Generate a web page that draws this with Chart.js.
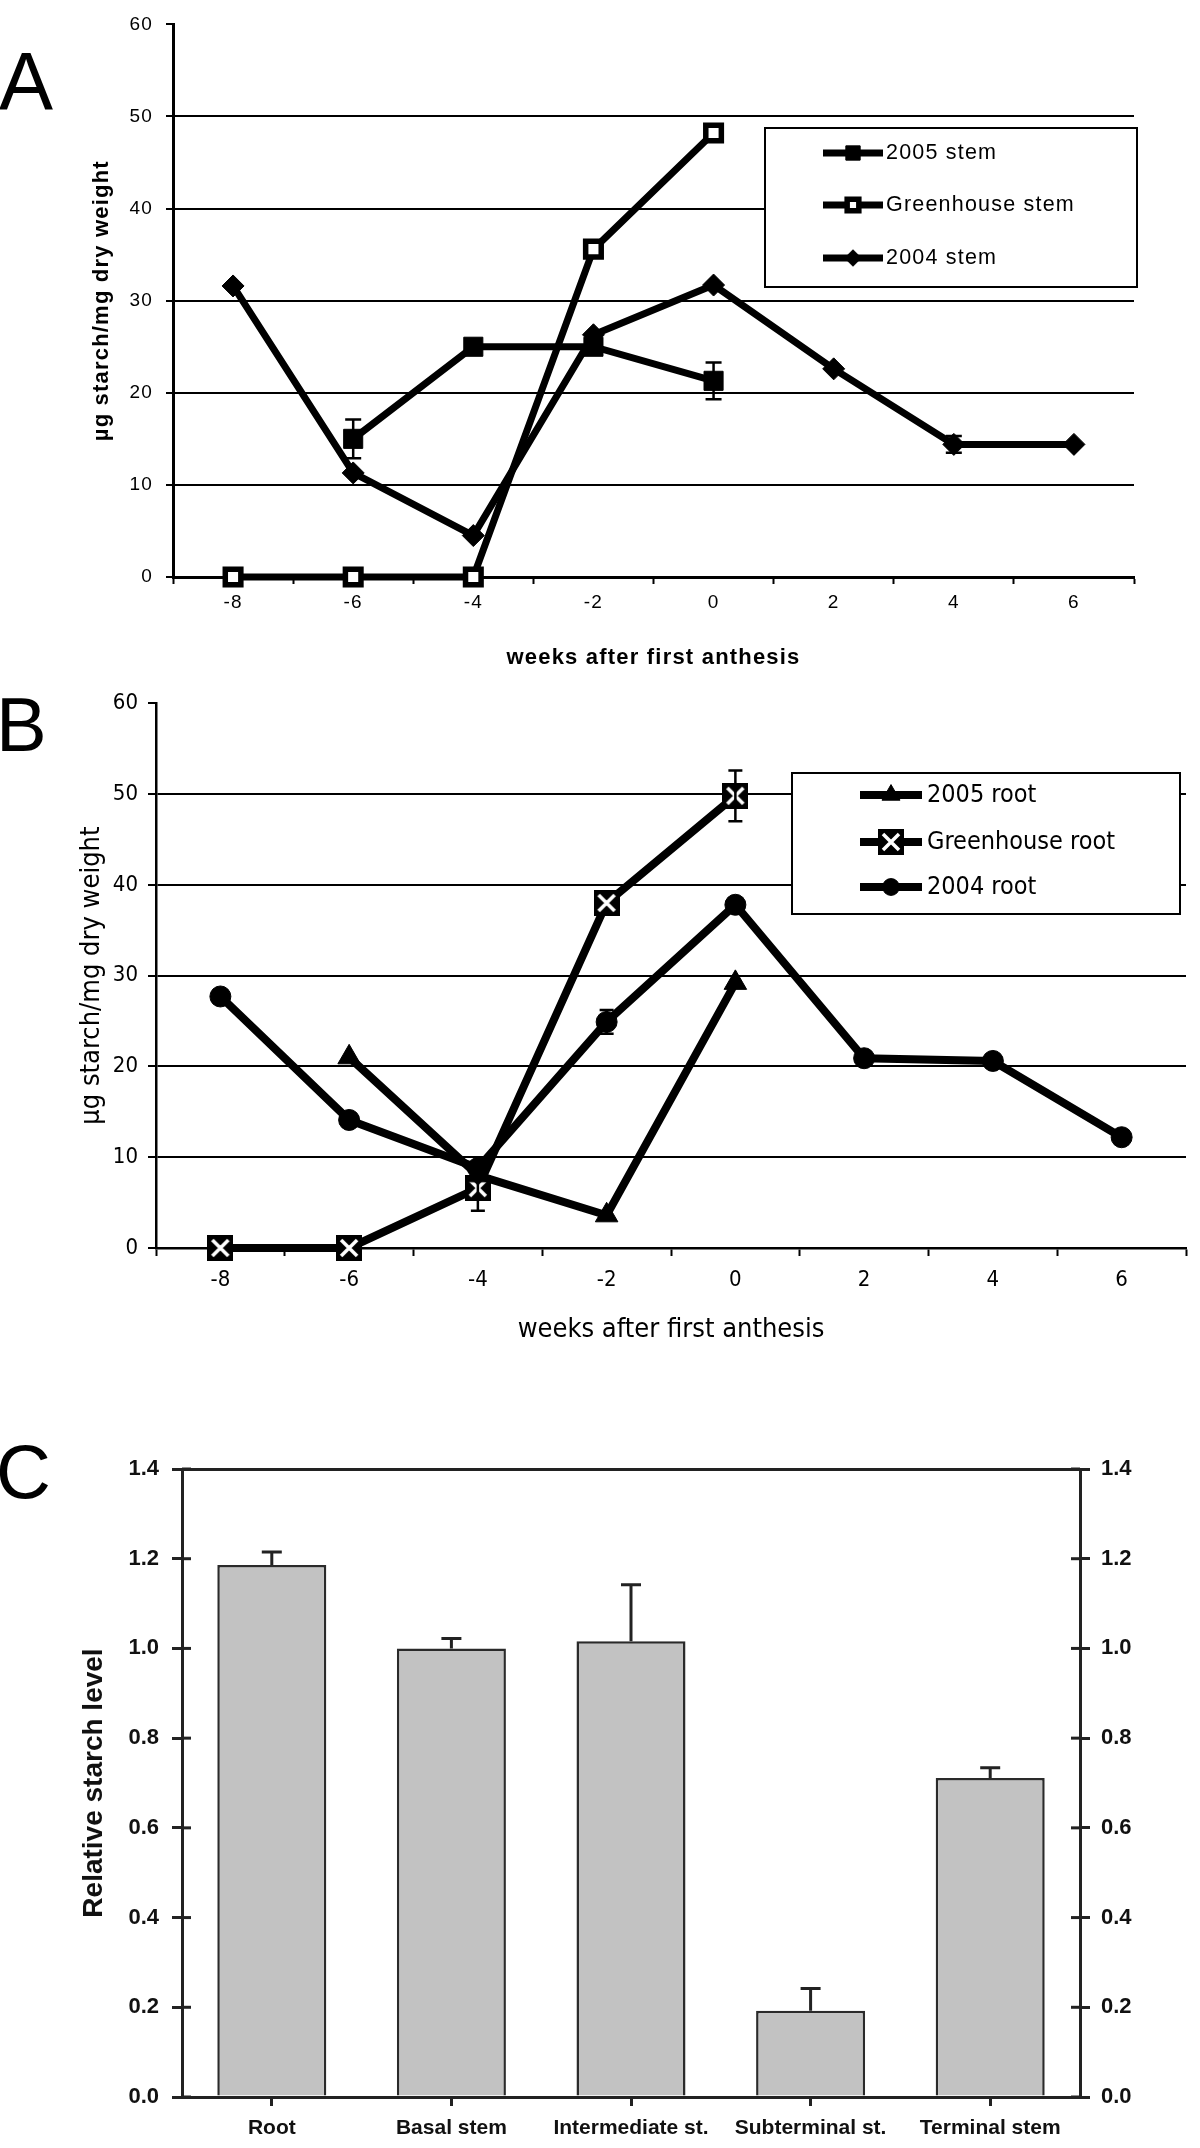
<!DOCTYPE html>
<html>
<head>
<meta charset="utf-8">
<script src="https://cdn.jsdelivr.net/npm/chart.js@4.4.1/dist/chart.umd.min.js"></script>
<style>
body { margin: 0; background: #fff; width: 1200px; height: 2148px; position: relative; overflow: hidden; }
.panel { position: absolute; left: 0; width: 1200px; }
.panel canvas { display: block; }
.letter { position: absolute; font-family: 'Liberation Sans', Arial, sans-serif; line-height: 1; color: #000; }
</style>
</head>
<body>
<div class="panel" style="top:0;height:680px"><canvas id="chartA" width="1200" height="680"></canvas></div>
<div class="panel" style="top:680px;height:680px"><canvas id="chartB" width="1200" height="680"></canvas></div>
<div class="panel" style="top:1400px;height:748px"><canvas id="chartC" width="1200" height="748"></canvas></div>
<div class="letter" style="left:-1px;top:41px;font-size:81px">A</div>
<div class="letter" style="left:-4px;top:687px;font-size:76px">B</div>
<div class="letter" style="left:-4px;top:1434px;font-size:76px">C</div>

<script>
// weeks after first anthesis (x categories)
var weeks = ['-8', '-6', '-4', '-2', '0', '2', '4', '6'];
var yTicksAB = [0, 10, 20, 30, 40, 50, 60];

// A : stem
var stem2005 = [null, 15.0, 25.0, 25.0, 21.3, null, null, null];
var stem2005Err = [null, 2.1, null, null, 2.0, null, null, null];
var stemGreenhouse = [0, 0, 0, 35.6, 48.2, null, null, null];
var stem2004 = [31.6, 11.3, 4.5, 26.3, 31.7, 22.6, 14.4, 14.4];
var stem2004Err = [null, null, null, null, null, null, 0.9, null];

// B : root
var root2005 = [null, 21.0, 8.0, 3.6, 29.2, null, null, null];
var rootGreenhouse = [0, 0, 6.6, 38.0, 49.8, null, null, null];
var rootGreenhouseErr = [null, null, 2.5, null, 2.8, null, null, null];
var root2004 = [27.7, 14.1, 8.8, 24.9, 37.8, 20.9, 20.6, 12.2];
var root2004Err = [null, null, null, 1.3, null, null, null, null];

// C : relative starch level
var parts = ['Root', 'Basal stem', 'Intermediate st.', 'Subterminal st.', 'Terminal stem'];
var relStarch = [1.186, 1.0, 1.016, 0.192, 0.711];
var relStarchErr = [0.029, 0.022, 0.126, 0.05, 0.023];
var yTicksC = [0, 0.2, 0.4, 0.6, 0.8, 1.0, 1.2, 1.4];

var fontA = "'Liberation Sans', Arial, sans-serif";
var fontB = "'DejaVu Sans Condensed', 'DejaVu Sans', sans-serif";

// black box with white cross (greenhouse root marker)
var xBox = document.createElement('canvas');
xBox.width = 26; xBox.height = 26;
var xc = xBox.getContext('2d');
xc.fillStyle = '#000';
xc.fillRect(0, 0, 26, 26);
xc.strokeStyle = '#fff';
xc.lineWidth = 3.5;
xc.beginPath();
xc.moveTo(5, 5); xc.lineTo(21, 21);
xc.moveTo(21, 5); xc.lineTo(5, 21);
xc.stroke();

// error bars from dataset.errorBars
var errorBars = {
	id: 'errorBars',
	afterDatasetsDraw: function(chart, args, o) {
		var ctx = chart.ctx;
		var ys = chart.scales.y;
		chart.data.datasets.forEach(function(ds, i) {
			if (!ds.errorBars) return;
			var meta = chart.getDatasetMeta(i);
			ds.errorBars.forEach(function(e, j) {
				if (e == null || ds.data[j] == null) return;
				var x = meta.data[j].x;
				var top = ys.getPixelForValue(ds.data[j] + e);
				var bot = o.upOnly ? ys.getPixelForValue(ds.data[j]) : ys.getPixelForValue(ds.data[j] - e);
				ctx.save();
				ctx.strokeStyle = o.color;
				ctx.lineWidth = o.width;
				ctx.beginPath();
				ctx.moveTo(x, top); ctx.lineTo(x, bot);
				ctx.moveTo(x - o.cap / 2, top); ctx.lineTo(x + o.cap / 2, top);
				if (!o.upOnly) {
					ctx.moveTo(x - o.cap / 2, bot); ctx.lineTo(x + o.cap / 2, bot);
				}
				ctx.stroke();
				ctx.restore();
			});
		});
	}
};

// legend box inside the plot, line + marker + label
var boxLegend = {
	id: 'boxLegend',
	afterDatasetsDraw: function(chart, args, o) {
		if (!o.box) return;
		var ctx = chart.ctx;
		var b = o.box;
		ctx.save();
		ctx.fillStyle = '#fff';
		ctx.fillRect(b[0], b[1], b[2] - b[0], b[3] - b[1]);
		ctx.strokeStyle = '#000';
		ctx.lineWidth = 2;
		ctx.strokeRect(b[0], b[1], b[2] - b[0], b[3] - b[1]);
		chart.data.datasets.forEach(function(ds, i) {
			var y = o.rows[i];
			var mx = (o.line[0] + o.line[1]) / 2;
			ctx.strokeStyle = ds.borderColor;
			ctx.lineWidth = ds.borderWidth;
			ctx.beginPath();
			ctx.moveTo(o.line[0], y); ctx.lineTo(o.line[1], y);
			ctx.stroke();
			ctx.fillStyle = ds.pointBackgroundColor;
			ctx.strokeStyle = ds.pointBorderColor;
			ctx.lineWidth = ds.pointBorderWidth;
			Chart.helpers.drawPoint(ctx, {
				pointStyle: ds.pointStyle, rotation: 0,
				radius: ds.pointRadius * o.scale, borderWidth: ds.pointBorderWidth
			}, mx, y);
			ctx.fillStyle = '#000';
			ctx.font = o.font;
			ctx.textAlign = 'left';
			ctx.textBaseline = 'middle';
			ctx.fillText(ds.label, o.textX, y);
		});
		ctx.restore();
	}
};

function spacing(px) {
	return { id: 'spacing', beforeDraw: function(chart) { chart.ctx.letterSpacing = px; } };
}

function noEdgeGrid(c) {
	return (c.tick && (c.tick.value === 0 || c.tick.value === 60)) ? 'rgba(0,0,0,0)' : '#000';
}

function lineSet(label, data, err, style, radius, bg, bw, lw) {
	return {
		label: label, data: data, errorBars: err,
		borderColor: '#000', borderWidth: lw, tension: 0, clip: false,
		pointStyle: style, pointRadius: radius, pointHoverRadius: radius,
		pointBackgroundColor: bg, pointBorderColor: '#000', pointBorderWidth: bw
	};
}

// A 줄기
new Chart(document.getElementById('chartA'), {
	type: 'line',
	data: {
		labels: weeks,
		datasets: [
			lineSet('2005 stem', stem2005, stem2005Err, 'rect', 13.5, '#000', 1, 7),
			lineSet('Greenhouse stem', stemGreenhouse, null, 'rect', 11, '#fff', 5.5, 7),
			lineSet('2004 stem', stem2004, stem2004Err, 'rectRot', 11, '#000', 1, 7)
		]
	},
	options: {
		responsive: false, animation: false,
		layout: { padding: { top: 20, right: 66, left: 0, bottom: 0 } },
		scales: {
			x: {
				type: 'category', offset: true,
				grid: { offset: true, drawOnChartArea: false, tickLength: 7, tickColor: '#000', tickWidth: 2 },
				border: { color: '#000', width: 3 },
				ticks: { color: '#000', font: { family: fontA, size: 19 }, padding: 7.5, maxRotation: 0, autoSkip: false },
				title: { display: true, text: 'weeks after first anthesis', color: '#000',
					font: { family: fontA, size: 22, weight: 'bold' }, padding: { top: 0, bottom: 9 } },
				afterFit: function(s) { s.height = 103; }
			},
			y: {
				min: 0, max: 60,
				afterBuildTicks: function(s) { s.ticks = yTicksAB.map(function(v) { return { value: v }; }); },
				grid: { color: noEdgeGrid, lineWidth: 2, tickLength: 7, tickColor: '#000', tickWidth: 2 },
				border: { color: '#000', width: 3 },
				ticks: { color: '#000', font: { family: fontA, size: 19 }, padding: 13 },
				title: { display: true, text: 'µg starch/mg dry weight', color: '#000',
					font: { family: fontA, size: 22, weight: 'bold' }, padding: { top: 89, bottom: 0 } },
				afterFit: function(s) { s.width = 173; }
			}
		},
		plugins: {
			legend: { display: false }, tooltip: { enabled: false },
			errorBars: { color: '#000', width: 2.5, cap: 16 },
			boxLegend: { box: [765, 128, 1137, 287], line: [823, 883], textX: 886,
				rows: [153, 205, 258], scale: 0.75, font: '21.5px ' + fontA }
		}
	},
	plugins: [spacing('1.2px'), errorBars, boxLegend]
});

// B 뿌리
new Chart(document.getElementById('chartB'), {
	type: 'line',
	data: {
		labels: weeks,
		datasets: [
			lineSet('2005 root', root2005, null, 'triangle', 13, '#000', 1, 8),
			lineSet('Greenhouse root', rootGreenhouse, rootGreenhouseErr, xBox, 13, '#000', 1, 8),
			lineSet('2004 root', root2004, root2004Err, 'circle', 10.5, '#000', 1, 8)
		]
	},
	options: {
		responsive: false, animation: false,
		layout: { padding: { top: 14, right: 3, left: 0, bottom: 0 } },
		scales: {
			x: {
				type: 'category', offset: true,
				grid: { offset: true, drawOnChartArea: false, tickLength: 8, tickColor: '#000', tickWidth: 2 },
				border: { color: '#000', width: 2.5 },
				ticks: { color: '#000', font: { family: fontB, size: 22 }, padding: 11, maxRotation: 0, autoSkip: false },
				title: { display: true, text: 'weeks after first anthesis', color: '#000',
					font: { family: fontB, size: 27 }, padding: { top: 0, bottom: 14 } },
				afterFit: function(s) { s.height = 112; }
			},
			y: {
				min: 0, max: 60,
				afterBuildTicks: function(s) { s.ticks = yTicksAB.map(function(v) { return { value: v }; }); },
				grid: { color: noEdgeGrid, lineWidth: 2, tickLength: 8, tickColor: '#000', tickWidth: 2 },
				border: { color: '#000', width: 2.5 },
				ticks: { color: '#000', font: { family: fontB, size: 22 }, padding: 10 },
				title: { display: true, text: 'µg starch/mg dry weight', color: '#000',
					font: { family: fontB, size: 27 }, padding: { top: 76, bottom: 0 } },
				afterFit: function(s) { s.width = 156; }
			}
		},
		plugins: {
			legend: { display: false }, tooltip: { enabled: false },
			errorBars: { color: '#000', width: 2.5, cap: 14 },
			boxLegend: { box: [792, 93, 1180, 234], line: [860, 922], textX: 927,
				rows: [115, 162, 207], scale: 0.8, font: '25px ' + fontB }
		}
	},
	plugins: [errorBars, boxLegend]
});

// C 상대 전분
var innerTicks = {
	id: 'innerTicks',
	afterDraw: function(chart) {
		var ctx = chart.ctx;
		['y', 'y2'].forEach(function(id) {
			var s = chart.scales[id];
			var x0 = s.position === 'left' ? s.right : s.left;
			var dir = s.position === 'left' ? 1 : -1;
			ctx.save();
			ctx.strokeStyle = '#222';
			ctx.lineWidth = 3;
			s.ticks.forEach(function(t) {
				var py = s.getPixelForValue(t.value);
				ctx.beginPath();
				ctx.moveTo(x0, py); ctx.lineTo(x0 + dir * 9, py);
				ctx.stroke();
			});
			ctx.restore();
		});
	}
};

function cTicks(s) { s.ticks = yTicksC.map(function(v) { return { value: v }; }); }

new Chart(document.getElementById('chartC'), {
	type: 'bar',
	data: {
		labels: parts,
		datasets: [{
			label: 'Relative starch level', data: relStarch, errorBars: relStarchErr,
			backgroundColor: '#c2c2c2', borderColor: '#2a2a2a', borderWidth: 2.5,
			barPercentage: 0.607, categoryPercentage: 1.0
		}]
	},
	options: {
		responsive: false, animation: false,
		layout: { padding: { top: 69, right: 0, left: 0, bottom: 0 } },
		scales: {
			x: {
				offset: true,
				grid: { offset: false, drawOnChartArea: false, tickLength: 9, tickColor: '#222', lineWidth: 3 },
				border: { color: '#222', width: 3 },
				ticks: { color: '#111', font: { family: fontA, size: 21, weight: 'bold' }, padding: 10, maxRotation: 0, autoSkip: false },
				afterFit: function(s) { s.height = 51; }
			},
			y: {
				min: 0, max: 1.4, afterBuildTicks: cTicks,
				grid: {
					color: function(c) { return (c.tick && Math.abs(c.tick.value - 1.4) < 1e-6) ? '#222' : 'rgba(0,0,0,0)'; },
					lineWidth: 3, tickLength: 10, tickColor: '#222', tickWidth: 3
				},
				border: { color: '#222', width: 3 },
				ticks: { color: '#111', font: { family: fontA, size: 22, weight: 'bold' }, padding: 13,
					callback: function(v) { return Number(v).toFixed(1); } },
				title: { display: true, text: 'Relative starch level', color: '#111',
					font: { family: fontA, size: 28, weight: 'bold' }, padding: { top: 77, bottom: 0 } },
				afterFit: function(s) { s.width = 182; }
			},
			y2: {
				position: 'right', min: 0, max: 1.4, afterBuildTicks: cTicks,
				grid: { drawOnChartArea: false, tickLength: 10, tickColor: '#222', tickWidth: 3 },
				border: { color: '#222', width: 3 },
				ticks: { color: '#111', font: { family: fontA, size: 22, weight: 'bold' }, padding: 11,
					callback: function(v) { return Number(v).toFixed(1); } },
				afterFit: function(s) { s.width = 120; }
			}
		},
		plugins: {
			legend: { display: false }, tooltip: { enabled: false },
			errorBars: { color: '#222', width: 3, cap: 20, upOnly: true }
		}
	},
	plugins: [errorBars, innerTicks]
});
</script>
</body>
</html>
